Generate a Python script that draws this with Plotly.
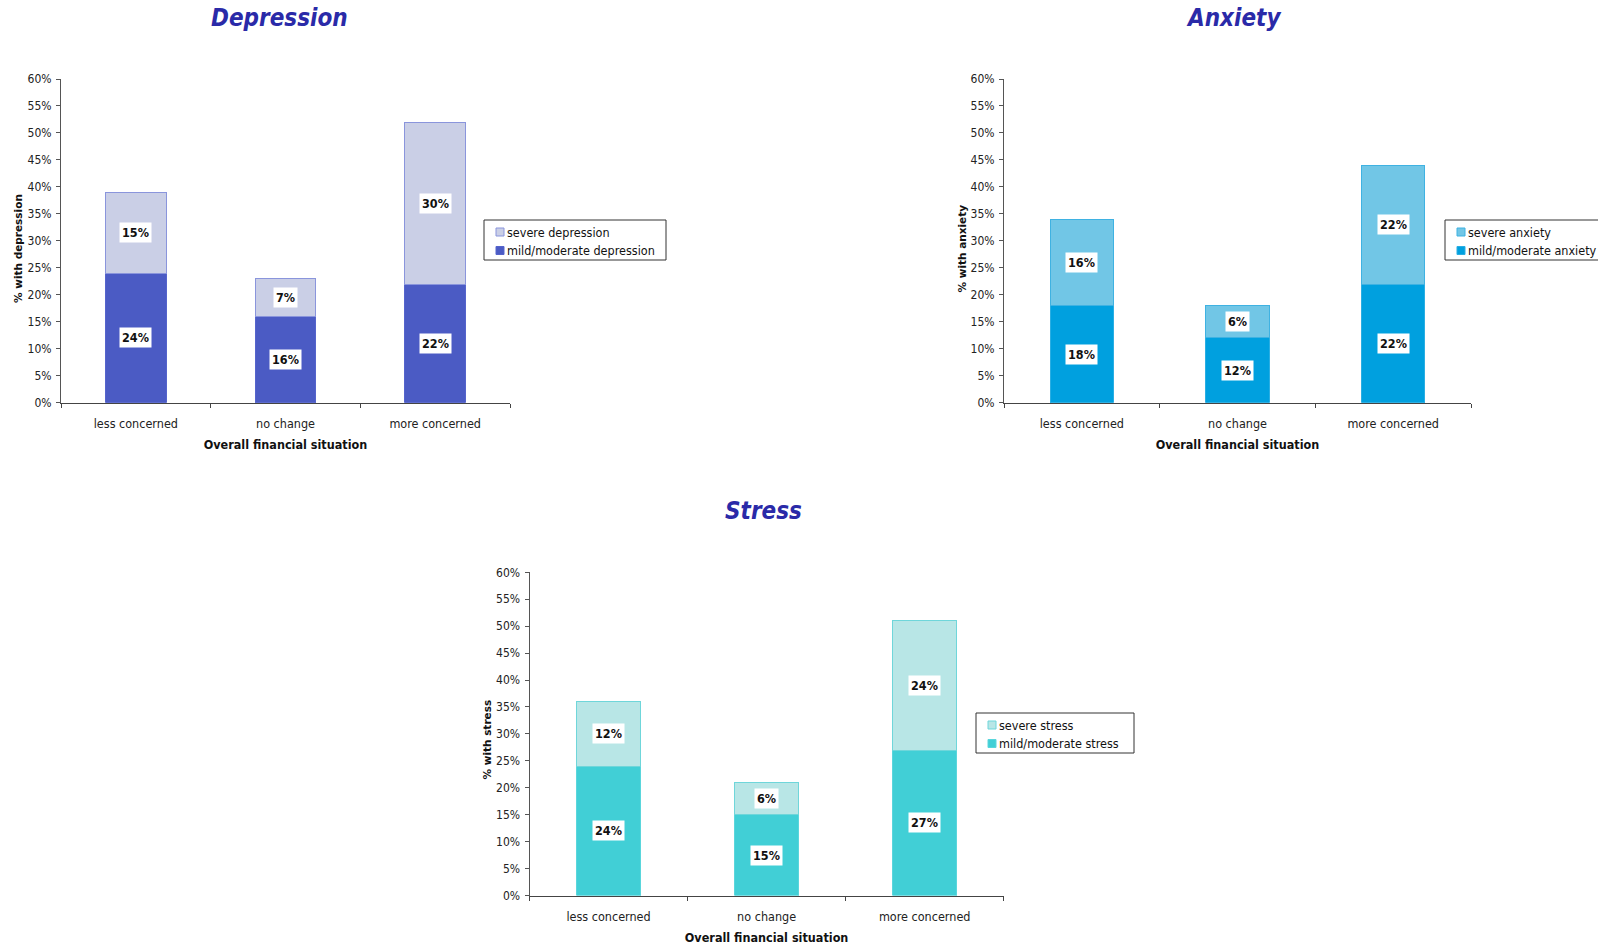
import plotly.graph_objects as go

# Survey results: share of respondents by change in financial concern
categories = ["less concerned", "no change", "more concerned"]

dep_mild = [24, 16, 22]
dep_severe = [15, 7, 30]

anx_mild = [18, 12, 22]
anx_severe = [16, 6, 22]

str_mild = [24, 15, 27]
str_severe = [12, 6, 24]

y_ticks = list(range(0, 61, 5))

FONT = "DejaVu Sans Condensed, Liberation Sans Narrow, DejaVu Sans, sans-serif"
TITLE_BLUE = "#2a2aa8"

W, H = 1598, 947

panels = [
    dict(
        name="Depression", mild=dep_mild, severe=dep_severe,
        mild_label="mild/moderate depression", severe_label="severe depression",
        mild_color="#4b5bc4", mild_line="#5564cc",
        severe_color="#cacfe6", severe_line="#8a95dc",
        ytitle="% with depression", ytitle_xy=(17.5, 248.5),
        x0=61, x1=510, ytop=79, ybot=402.7,
        legend_box=(484, 220, 182, 40), title_xy=(279, 18),
    ),
    dict(
        name="Anxiety", mild=anx_mild, severe=anx_severe,
        mild_label="mild/moderate anxiety", severe_label="severe anxiety",
        mild_color="#00a0df", mild_line="#2aaee3",
        severe_color="#71c6e6", severe_line="#3fb2e2",
        ytitle="% with anxiety", ytitle_xy=(961, 248.5),
        x0=1004, x1=1471, ytop=79, ybot=402.7,
        legend_box=(1445, 220, 182, 40), title_xy=(1233, 18),
    ),
    dict(
        name="Stress", mild=str_mild, severe=str_severe,
        mild_label="mild/moderate stress", severe_label="severe stress",
        mild_color="#41cfd6", mild_line="#5ad6dc",
        severe_color="#b8e6e6", severe_line="#6fd6da",
        ytitle="% with stress", ytitle_xy=(486.5, 740),
        x0=529.5, x1=1003.7, ytop=572.3, ybot=895.5,
        legend_box=(976, 713, 158, 40), title_xy=(763, 511),
    ),
]


def px(x):
    return x / W


def py(y):
    return 1 - y / H


fig = go.Figure()
annotations = []
shapes = []
layout_axes = {}

for i, p in enumerate(panels, start=1):
    sfx = "" if i == 1 else str(i)
    xa, ya = "x" + sfx, "y" + sfx

    fig.add_trace(go.Bar(
        x=categories, y=p["mild"], name=p["mild_label"],
        marker=dict(color=p["mild_color"], line=dict(color=p["mild_line"], width=1)),
        xaxis=xa, yaxis=ya, hoverinfo="skip", showlegend=False,
    ))
    fig.add_trace(go.Bar(
        x=categories, y=p["severe"], name=p["severe_label"],
        marker=dict(color=p["severe_color"], line=dict(color=p["severe_line"], width=1)),
        xaxis=xa, yaxis=ya, hoverinfo="skip", showlegend=False,
    ))

    # white value boxes centred on each stacked segment
    for c, m, s in zip(categories, p["mild"], p["severe"]):
        for base, val in ((0, m), (m, s)):
            annotations.append(dict(
                x=c, y=base + val / 2, xref=xa, yref=ya,
                text=f"<b>{val}%</b>", showarrow=False,
                bgcolor="white", borderpad=2,
                font=dict(family=FONT, size=12.5, color="#111"),
            ))

    # panel heading
    tx, ty = p["title_xy"]
    annotations.append(dict(
        x=px(tx), y=py(ty), xref="paper", yref="paper",
        text=p["name"], showarrow=False, xanchor="center", yanchor="middle",
        font=dict(family=FONT, size=24, color=TITLE_BLUE, weight="bold", style="italic"),
    ))

    # rotated value-axis title
    vx, vy = p["ytitle_xy"]
    annotations.append(dict(
        x=px(vx), y=py(vy), xref="paper", yref="paper",
        text=f"<b>{p['ytitle']}</b>", showarrow=False, textangle=-90,
        xanchor="center", yanchor="middle",
        font=dict(family="DejaVu Sans, sans-serif", size=10.5, color="#111"),
    ))

    # boxed key: severe on the first row, mild/moderate on the second
    bx, by, bw, bh = p["legend_box"]
    shapes.append(dict(
        type="rect", xref="paper", yref="paper",
        x0=px(bx), x1=px(bx + bw), y0=py(by), y1=py(by + bh),
        line=dict(color="#333", width=1), fillcolor="white", layer="above",
    ))
    rows = [
        (p["severe_label"], p["severe_color"], p["severe_line"], by + 12),
        (p["mild_label"], p["mild_color"], p["mild_line"], by + 30.5),
    ]
    for label, fill, edge, cy in rows:
        shapes.append(dict(
            type="rect", xref="paper", yref="paper",
            x0=px(bx + 12), x1=px(bx + 20), y0=py(cy - 4), y1=py(cy + 4),
            line=dict(color=edge, width=1), fillcolor=fill, layer="above",
        ))
        annotations.append(dict(
            x=px(bx + 20.5), y=py(cy), xref="paper", yref="paper",
            text=label, showarrow=False, xanchor="left", yanchor="middle",
            font=dict(family=FONT, size=12.5, color="#111"),
        ))

    layout_axes["xaxis" + sfx] = dict(
        domain=[px(p["x0"]), px(p["x1"])], anchor=ya,
        type="category", categoryorder="array", categoryarray=categories,
        showline=True, linecolor="#444", linewidth=1,
        ticks="outside", ticklen=4, tickcolor="#444", tickson="boundaries",
        ticklabelstandoff=9,
        showgrid=False, zeroline=False,
        tickfont=dict(family=FONT, size=12.5, color="#222"),
        title=dict(text="<b>Overall financial situation</b>", standoff=10,
                   font=dict(family=FONT, size=12.5, color="#111")),
        fixedrange=True,
    )
    layout_axes["yaxis" + sfx] = dict(
        domain=[py(p["ybot"]), py(p["ytop"])], anchor=xa,
        range=[0, 60], tickvals=y_ticks, ticktext=[f"{v}%" for v in y_ticks],
        showline=True, linecolor="#555", linewidth=1,
        ticks="outside", ticklen=4, tickcolor="#555",
        ticklabelstandoff=2,
        showgrid=False, zeroline=False,
        tickfont=dict(family=FONT, size=12, color="#222"),
        fixedrange=True,
    )

fig.update_layout(
    width=W, height=H,
    margin=dict(l=0, r=0, t=0, b=0, autoexpand=False),
    paper_bgcolor="white", plot_bgcolor="white",
    barmode="stack", bargap=0.595,
    showlegend=False,
    annotations=annotations,
    shapes=shapes,
    **layout_axes,
)

fig.write_html("out.html", config={"displayModeBar": False})
